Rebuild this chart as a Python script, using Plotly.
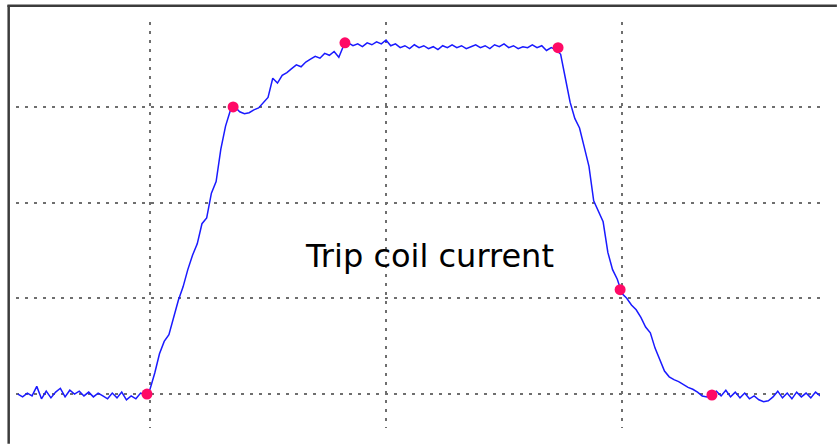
import numpy as np
import plotly.graph_objects as go

# Trip coil current trace (arbitrary units), sampled every 0.2 ms starting at 4.4 ms
sample_start_ms = 4.4
sample_step_ms = 0.2

base_pre = [0.00, -0.03, 0.01, -0.02, 0.08, -0.05, 0.03, -0.04, 0.02, 0.06,
            -0.03, 0.04, 0.00, 0.03, -0.02, 0.02, -0.03, 0.01, -0.02, -0.05,
            0.01, -0.04, 0.02, -0.06, -0.02, -0.05, 0.01, -0.01]
rise = [0.05, 0.22, 0.42, 0.55, 0.62, 0.80, 0.98, 1.12, 1.30, 1.45,
        1.57, 1.78, 1.84, 2.10, 2.22, 2.56, 2.80, 2.96, 3.00]
knee = [2.95, 2.93, 2.94, 2.97, 2.99, 3.04, 3.10, 3.30, 3.25, 3.33,
        3.36, 3.40, 3.44, 3.42, 3.47, 3.50, 3.53, 3.51, 3.56, 3.54,
        3.58, 3.52, 3.64]
plateau = [3.67, 3.64, 3.66, 3.63, 3.67, 3.65, 3.68, 3.66, 3.70, 3.64,
           3.66, 3.62, 3.64, 3.61, 3.65, 3.62, 3.64, 3.61, 3.63, 3.60,
           3.64, 3.62, 3.65, 3.62, 3.64, 3.61, 3.63, 3.65, 3.62, 3.64,
           3.61, 3.65, 3.63, 3.66, 3.62, 3.64, 3.61, 3.63, 3.62, 3.65,
           3.62, 3.64, 3.59, 3.62, 3.60]
fall = [3.55, 3.30, 3.05, 2.88, 2.78, 2.58, 2.38, 2.02, 1.90, 1.80,
        1.48, 1.30, 1.20, 1.05, 1.00, 0.93, 0.88, 0.80, 0.70, 0.64,
        0.48, 0.35, 0.24, 0.18, 0.15, 0.13, 0.10, 0.07, 0.05, 0.02,
        -0.02, -0.03, 0.00]
base_post = [0.03, -0.02, 0.04, -0.03, 0.02, -0.04, 0.01, -0.05, -0.02, -0.06,
             -0.08, -0.07, -0.03, 0.03, -0.04, 0.01, -0.05, 0.02, -0.03, 0.01,
             -0.04, 0.02, -0.02]

current = base_pre + rise + knee + plateau + fall + base_post
time_ms = np.round(sample_start_ms + sample_step_ms * np.arange(len(current)), 2)

# Marked event points
event_t = [9.87, 13.52, 18.26, 27.29, 29.92, 33.81]
event_i = [0.00, 3.00, 3.67, 3.62, 1.09, -0.01]

x_grid = [10, 20, 30]
y_grid = [0, 1, 2, 3]

label_text = "Trip coil current"

fig = go.Figure()
fig.add_trace(go.Scatter(
    x=time_ms, y=current, mode="lines",
    line=dict(color="#1a1aff", width=1.5),
    hoverinfo="skip", showlegend=False,
))
fig.add_trace(go.Scatter(
    x=event_t, y=event_i, mode="markers",
    marker=dict(color="#ff0a66", size=11, line=dict(width=0)),
    cliponaxis=False, showlegend=False, hoverinfo="skip",
))

fig.add_annotation(
    x=21.86, y=1.44, xref="x", yref="y", text=label_text, showarrow=False,
    font=dict(family="DejaVu Sans, sans-serif", size=32, color="#000000"),
    xanchor="center", yanchor="middle",
)

# outer frame (left and top edges visible)
frame_col = "#3c3c3c"
fig.add_shape(type="line", xref="paper", yref="paper",
              x0=-0.0091, x1=-0.0091, y0=1.041, y1=-0.039,
              line=dict(color=frame_col, width=2.5))
fig.add_shape(type="line", xref="paper", yref="paper",
              x0=-0.0107, x1=1.021, y0=1.040, y1=1.040,
              line=dict(color=frame_col, width=2.5))

grid_style = dict(showgrid=True, gridcolor="#6e6e6e", gridwidth=2, griddash="3px,6px",
                  zeroline=False, showticklabels=False, ticks="", showline=False)

fig.update_xaxes(range=[4.32, 38.39], tickvals=x_grid, **grid_style)
fig.update_yaxes(range=[-0.355, 3.888], tickvals=y_grid, **grid_style)

fig.update_layout(
    width=837, height=444, autosize=False,
    margin=dict(l=16, r=17, t=22, b=16),
    paper_bgcolor="white", plot_bgcolor="white",
    showlegend=False, hovermode=False,
)

fig.write_html("out.html", config={"displayModeBar": False},
               post_script="document.documentElement.style.overflow='hidden';document.body.style.margin='0';document.body.style.overflow='hidden';")
